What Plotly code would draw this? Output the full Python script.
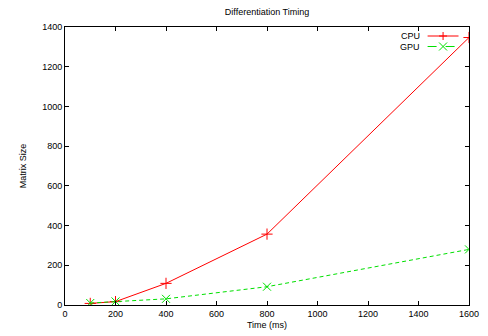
import plotly.graph_objects as go

time_ms = [100, 200, 400, 800, 1600]
cpu = [8, 17, 109, 357, 1347]
gpu = [10, 18, 31, 92, 280]

x_ticks = [0, 200, 400, 600, 800, 1000, 1200, 1400, 1600]
y_ticks = [0, 200, 400, 600, 800, 1000, 1200, 1400]

W, H = 488, 336
L, R, T, B = 64.5, 18.5, 27, 31
FONT = dict(family="Liberation Sans, Arial, sans-serif", size=9, color="#000")
RED = "#ff0000"
GREEN = "#00e000"

fig = go.Figure()
fig.add_trace(go.Scatter(x=time_ms, y=cpu, name="CPU", mode="lines+markers",
                         line=dict(color=RED, width=1),
                         marker=dict(symbol="cross-thin", size=8,
                                     line=dict(color=RED, width=1))))
fig.add_trace(go.Scatter(x=time_ms, y=gpu, name="GPU", mode="lines+markers",
                         line=dict(color=GREEN, width=1, dash="4px,3px"),
                         marker=dict(symbol="x-thin", size=8,
                                     line=dict(color=GREEN, width=1))))

axis_common = dict(showgrid=False, zeroline=False, showline=True, linecolor="#000",
                   linewidth=1, mirror="allticks", ticks="inside", ticklen=4,
                   tickcolor="#000", tickwidth=1, tickfont=FONT, automargin=False)
fig.update_xaxes(range=[0, 1600], tickvals=x_ticks, ticktext=[str(v) for v in x_ticks],
                 title=dict(text="Time (ms)", font=FONT, standoff=3), **axis_common)
fig.update_yaxes(range=[0, 1400], tickvals=y_ticks, ticktext=[str(v) for v in y_ticks],
                 title=dict(text="Matrix Size", font=FONT, standoff=14), **axis_common)

pw = W - L - R
ph = H - T - B
def px_x(p):
    return (p - L) / pw
def px_y(p):
    return 1 - (p - T) / ph

shapes = []
annots = []
legend = [("CPU", RED, "plus", 36, "solid"), ("GPU", GREEN, "x", 46.5, "dash")]
for name, col, sym, yy, dash in legend:
    annots.append(dict(x=px_x(422), y=px_y(yy), xref="paper", yref="paper", text=name,
                       showarrow=False, xanchor="right", yanchor="middle", font=FONT))
    shapes.append(dict(type="line", xref="paper", yref="paper", x0=px_x(428), x1=px_x(459),
                       y0=px_y(yy), y1=px_y(yy), line=dict(color=col, width=1, dash=dash)))
    cx, s = 443.5, 4
    if sym == "plus":
        segs = [(cx - s, yy, cx + s, yy), (cx, yy - s, cx, yy + s)]
    else:
        segs = [(cx - s, yy - s, cx + s, yy + s), (cx - s, yy + s, cx + s, yy - s)]
    for x0, y0, x1, y1 in segs:
        shapes.append(dict(type="line", xref="paper", yref="paper",
                           x0=px_x(x0), x1=px_x(x1), y0=px_y(y0), y1=px_y(y1),
                           line=dict(color=col, width=1)))

fig.update_layout(
    width=W, height=H,
    margin=dict(l=L, r=R, t=T, b=B),
    paper_bgcolor="white", plot_bgcolor="white",
    showlegend=False,
    title=dict(text="Differentiation Timing", x=0.5 * (L + W - R) / W, xanchor="center",
               y=1 - 12 / H, yanchor="middle", font=FONT),
    shapes=shapes, annotations=annots,
    font=FONT,
)
fig.write_html("out.html", config={"displayModeBar": False},
               post_script="document.body.style.margin='0';document.body.style.overflow='hidden';")
